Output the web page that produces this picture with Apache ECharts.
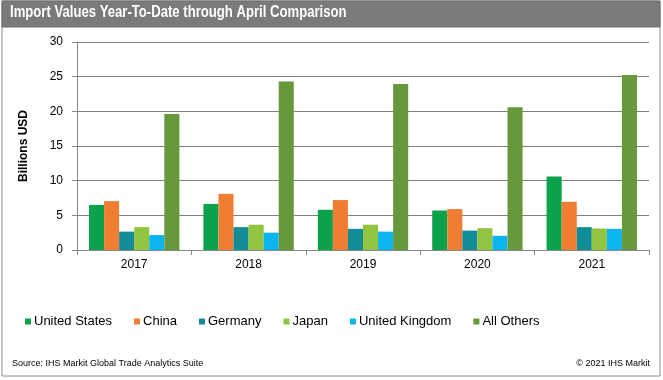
<!DOCTYPE html>
<html>
<head>
<meta charset="utf-8">
<script src="https://cdn.jsdelivr.net/npm/echarts@6/dist/echarts.min.js"></script>
<style>
html,body{margin:0;padding:0;background:#fff;}
#c{width:663px;height:380px;}
</style>
</head>
<body>
<div id="c"></div>
<script>
var categories = ['2017', '2018', '2019', '2020', '2021'];
var seriesNames = ['United States', 'China', 'Germany', 'Japan', 'United Kingdom', 'All Others'];
var unitedStates = [6.5, 6.65, 5.8, 5.7, 10.6];
var china = [7.05, 8.1, 7.2, 5.9, 6.95];
var germany = [2.65, 3.3, 3.05, 2.8, 3.3];
var japan = [3.3, 3.65, 3.65, 3.15, 3.1];
var unitedKingdom = [2.15, 2.5, 2.65, 2.05, 3.05];
var allOthers = [19.6, 24.3, 23.95, 20.6, 25.25];
var yTicks = [0, 5, 10, 15, 20, 25, 30];
var colors = ['#0ca24b', '#ef7d32', '#138c96', '#92c440', '#0cb4f0', '#65993b'];

var values = [unitedStates, china, germany, japan, unitedKingdom, allOthers];
var chart = echarts.init(document.getElementById('c'));
var font = 'Liberation Sans, Arial, sans-serif';
chart.setOption({
  animation: false,
  color: colors,
  graphic: [
    {type: 'rect', shape: {x: 2, y: 1, width: 658, height: 375}, style: {fill: 'none', stroke: '#8a8a8a', lineWidth: 1}},
    {type: 'rect', shape: {x: 2, y: 1, width: 658, height: 26}, style: {fill: '#7a7a7a', stroke: '#6e6e6e', lineWidth: 1}},
    {type: 'text', x: 10, y: 5, scaleX: 0.82, style: {text: 'Import Values Year-To-Date through April Comparison', fill: '#fff', font: 'bold 16px ' + font}},
    {type: 'text', left: 12, top: 359, style: {text: 'Source: IHS Markit Global Trade Analytics Suite', fill: '#000', font: '9px ' + font}},
    {type: 'text', right: 13, top: 359, style: {text: '\u00a9 2021 IHS Markit', fill: '#000', font: '9px ' + font}}
  ],
  grid: {left: 77, right: 14, top: 42, bottom: 130},
  legend: {
    data: seriesNames,
    left: 25, top: 315, padding: 0,
    itemWidth: 6, itemHeight: 6, itemGap: 22,
    icon: 'rect',
    textStyle: {fontFamily: font, fontSize: 13, color: '#000', padding: [0, 0, 0, -2]}
  },
  xAxis: {
    type: 'category',
    data: categories,
    axisLine: {lineStyle: {color: '#888', width: 1}},
    axisTick: {show: true, length: 5, lineStyle: {color: '#888'}},
    axisLabel: {color: '#000', fontFamily: font, fontSize: 12, margin: 9}
  },
  yAxis: {
    type: 'value',
    min: 0, max: 30, interval: 5,
    name: 'Billions USD',
    nameLocation: 'middle',
    nameGap: 47,
    nameTextStyle: {fontFamily: font, fontSize: 12, fontWeight: 'bold', color: '#000'},
    axisLine: {show: true, lineStyle: {color: '#888'}},
    axisTick: {show: true, length: 5, lineStyle: {color: '#888'}},
    axisLabel: {color: '#000', fontFamily: font, fontSize: 12, margin: 14,
      formatter: function (v) { return yTicks.indexOf(v) >= 0 ? String(v) : ''; }},
    splitLine: {lineStyle: {color: '#7f7f7f', width: 1}}
  },
  series: seriesNames.map(function (n, i) {
    return {name: n, type: 'bar', data: values[i], barGap: '0%', barCategoryGap: '21%'};
  })
});
</script>
</body>
</html>
